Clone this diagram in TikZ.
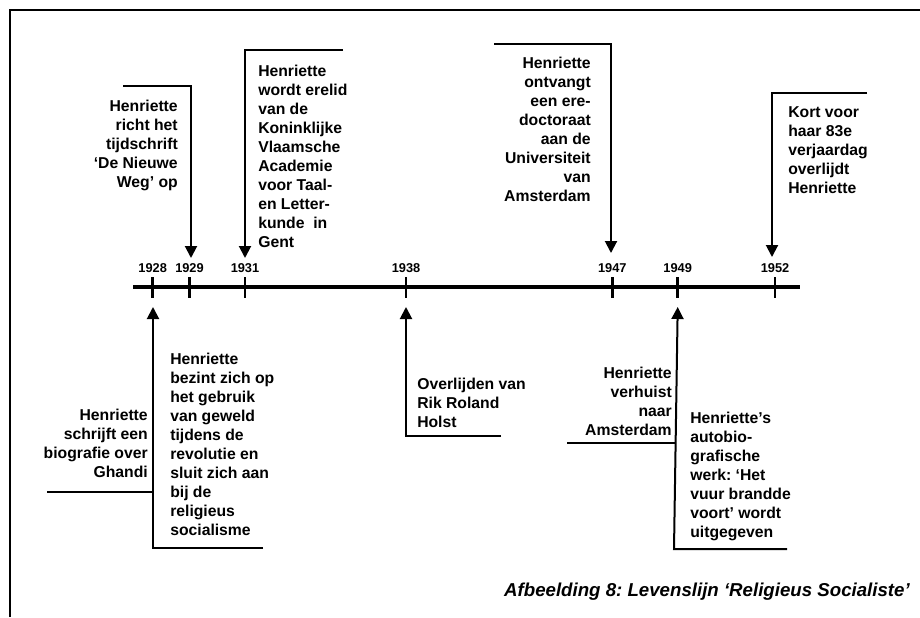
\documentclass[tikz,border=0pt]{standalone}
\usepackage{fontspec}
\setmainfont{Liberation Sans}
\usetikzlibrary{arrows.meta}
\frenchspacing
\begin{document}
\begin{tikzpicture}[x=0.75pt,y=-0.75pt,
  txt/.style={font=\bfseries\fontsize{11.8}{14.25}\selectfont, inner sep=0pt},
  yr/.style={font=\bfseries\fontsize{9.6}{11}\selectfont, inner sep=0pt},
  callout/.style={line width=1.5pt},
  arr/.style={callout, -{Triangle[width=9pt,length=9pt]}},
  axis/.style={line width=2.3pt},
  tickmark/.style={line width=2.2pt}]
\useasboundingbox (0,0) rectangle (920,617);
\draw[line width=1.5pt] (10,617) -- (10,10) -- (920,10);

% timeline
\coordinate (tlS) at (133,287);
\coordinate (tlE) at (800,287);
\draw[axis] (tlS) -- (tlE);
\foreach \n/\x in {1928/152.7,1929/189.5,1931/245,1938/406,1947/612.3,1949/677.7,1952/775}{
  \draw[tickmark] (\x,277) -- (\x,298);
  \node[yr] (l\n) at (\x,268) {\n};
}

% 1929
\coordinate (a29) at (123,86);
\coordinate (b29) at (191,86);
\coordinate (t29) at (191,258);
\draw[arr] (a29) -- (b29) -- (t29);
\node[txt, anchor=east, align=right] (n1929) at (178,145.5)
  {Henriette\\richt het\\tijdschrift\\‘De Nieuwe\\Weg’ op};

% 1931
\coordinate (a31) at (343,50);
\coordinate (b31) at (245,50);
\coordinate (t31) at (245,258);
\draw[arr] (a31) -- (b31) -- (t31);
\node[txt, anchor=west, align=left] (n1931) at (258,156)
  {Henriette\\wordt erelid\\van de\\Koninklijke\\Vlaamsche\\Academie\\voor Taal-\\en Letter-\\kunde\ \ in\\Gent};

% 1947
\coordinate (a47) at (494,44);
\coordinate (b47) at (611,44);
\coordinate (t47) at (611,253);
\draw[arr] (a47) -- (b47) -- (t47);
\node[txt, anchor=east, align=right] (n1947) at (591,129)
  {Henriette\\ontvangt\\een ere-\\doctoraat\\aan de\\Universiteit\\van\\Amsterdam};

% 1952
\coordinate (a52) at (867,93);
\coordinate (b52) at (772,93);
\coordinate (t52) at (772,257);
\draw[arr] (a52) -- (b52) -- (t52);
\node[txt, anchor=west, align=left] (n1952) at (788,150)
  {Kort voor\\haar 83e\\verjaardag\\overlijdt\\Henriette};

% 1928
\coordinate (a28) at (263,548);
\coordinate (b28) at (153,548);
\coordinate (t28) at (153,307);
\draw[arr] (a28) -- (b28) -- (t28);
\node[txt, anchor=west, align=left] (n1928) at (170,444)
  {Henriette\\bezint zich op\\het gebruik\\van geweld\\tijdens de\\revolutie en\\sluit zich aan\\bij de\\religieus\\socialisme};

% Ghandi
\coordinate (ag) at (47,492);
\coordinate (bg) at (153,492);
\draw[callout] (ag) -- (bg);
\node[txt, anchor=east, align=right] (ngh) at (148,443.5)
  {Henriette\\schrijft een\\biografie over\\Ghandi};

% 1938
\coordinate (a38) at (501,436);
\coordinate (b38) at (406,436);
\coordinate (t38) at (406,307);
\draw[arr] (a38) -- (b38) -- (t38);
\node[txt, anchor=west, align=left] (n1938) at (417,403)
  {Overlijden van\\Rik Roland\\Holst};

% 1949
\coordinate (a49) at (787,549);
\coordinate (b49) at (674,549);
\coordinate (t49) at (677.7,307);
\draw[arr] (a49) -- (b49) -- (t49);
\coordinate (am1) at (567,443);
\coordinate (am2) at (675,443);
\draw[callout] (am1) -- (am2);
\node[txt, anchor=east, align=right] (nams) at (672,401.4)
  {Henriette\\verhuist\\naar\\Amsterdam};
\node[txt, anchor=west, align=left] (naut) at (690,476.6)
  {Henriette’s\\autobio-\\grafische\\werk: ‘Het\\vuur brandde\\voort’ wordt\\uitgegeven};

% caption
\node[font=\bfseries\itshape\fontsize{14}{16}\selectfont, anchor=east, inner sep=0pt] (cap) at (910,591.7)
  {Afbeelding 8: Levenslijn ‘Religieus Socialiste’};
\end{tikzpicture}
\end{document}
